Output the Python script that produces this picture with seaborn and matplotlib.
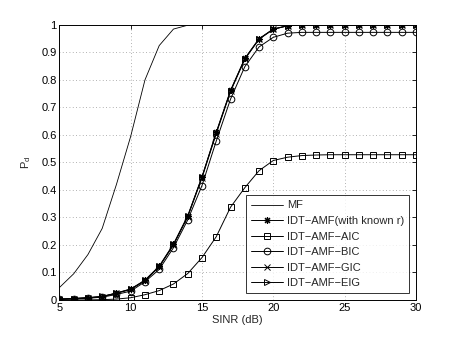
import numpy as np
import pandas as pd
import matplotlib
matplotlib.use("Agg")
import matplotlib.pyplot as plt
import seaborn as sns

sinr = list(range(5, 31))

mf = [0.045, 0.095, 0.165, 0.26, 0.42, 0.595, 0.80, 0.925, 0.985, 0.999] + [1.0] * 16
known_r = [0.003, 0.005, 0.008, 0.012, 0.025, 0.039, 0.071, 0.122, 0.202, 0.305,
           0.448, 0.610, 0.762, 0.878, 0.950, 0.985, 0.997] + [1.0] * 9
aic = [0.0, 0.0, 0.0, 0.001, 0.003, 0.008, 0.019, 0.034, 0.058, 0.096,
       0.154, 0.230, 0.337, 0.408, 0.470, 0.507, 0.519, 0.525, 0.527] + [0.528] * 7
bic = [0.002, 0.004, 0.006, 0.010, 0.020, 0.032, 0.066, 0.111, 0.190, 0.291,
       0.416, 0.578, 0.730, 0.848, 0.920, 0.955, 0.970] + [0.973] * 9
gic = [0.003, 0.005, 0.008, 0.012, 0.024, 0.038, 0.070, 0.120, 0.200, 0.302,
       0.444, 0.605, 0.758, 0.875, 0.948, 0.984, 0.997] + [1.0] * 9
eig = [0.003, 0.005, 0.008, 0.013, 0.025, 0.040, 0.072, 0.123, 0.203, 0.306,
       0.447, 0.608, 0.760, 0.877, 0.949, 0.985, 0.997] + [1.0] * 9

labels = ["MF", "IDT\u2212AMF(with known r)", "IDT\u2212AMF\u2212AIC",
          "IDT\u2212AMF\u2212BIC", "IDT\u2212AMF\u2212GIC", "IDT\u2212AMF\u2212EIG"]

sns.set_theme(style="white")
plt.rcParams['font.family'] = ['Liberation Sans', 'DejaVu Sans']
plt.rcParams['mathtext.fontset'] = 'custom'
plt.rcParams['mathtext.rm'] = 'Liberation Sans'

fig = plt.figure(figsize=(4.57, 3.37), dpi=100)
ax = fig.add_axes([0.130, 0.110, 0.780, 0.816])

series = [
    (mf, labels[0], dict(marker=None, linewidth=0.6)),
    (known_r, labels[1], dict(marker=(8, 2, 0), markersize=5, markeredgewidth=0.8)),
    (aic, labels[2], dict(marker='s', markersize=4.2, markerfacecolor='none', markeredgewidth=0.7)),
    (bic, labels[3], dict(marker='o', markersize=4.8, markerfacecolor='none', markeredgewidth=0.7)),
    (gic, labels[4], dict(marker='x', markersize=4, markeredgewidth=0.7)),
    (eig, labels[5], dict(marker='>', markersize=4.8, markerfacecolor='none', markeredgewidth=0.7)),
]
for vals, lab, kw in series:
    df = pd.DataFrame({"SINR": sinr, "Pd": vals})
    kw.setdefault('linewidth', 0.7)
    sns.lineplot(data=df, x="SINR", y="Pd", ax=ax, color='black',
                 label=lab, markeredgecolor='black', **kw)

ax.set_xlim(5, 30)
ax.set_ylim(0, 1)
ax.set_xticks([5, 10, 15, 20, 25, 30])
ax.set_yticks(np.arange(0, 1.01, 0.1))
ax.set_yticklabels(['0', '0.1', '0.2', '0.3', '0.4', '0.5', '0.6', '0.7', '0.8', '0.9', '1'])
ax.grid(True, linestyle=(0, (1, 3)), color='#999999', linewidth=0.6)
ax.tick_params(direction='in', top=True, right=True, length=3, width=0.6,
               labelsize=8, colors='black', pad=2)
for s in ax.spines.values():
    s.set_color('black')
    s.set_linewidth(0.7)
ax.set_xlabel("SINR (dB)", fontsize=8, labelpad=2)
ax.set_ylabel(r"P$_\mathrm{d}$", fontsize=8, labelpad=6)

leg = ax.legend(loc='lower right', fontsize=8, handlelength=2.9, frameon=True,
                fancybox=False, edgecolor='black', borderaxespad=0.6,
                labelspacing=0.5, borderpad=0.45, handletextpad=0.35)
leg.get_frame().set_linewidth(0.7)

fig.savefig("out.png", dpi=100)
